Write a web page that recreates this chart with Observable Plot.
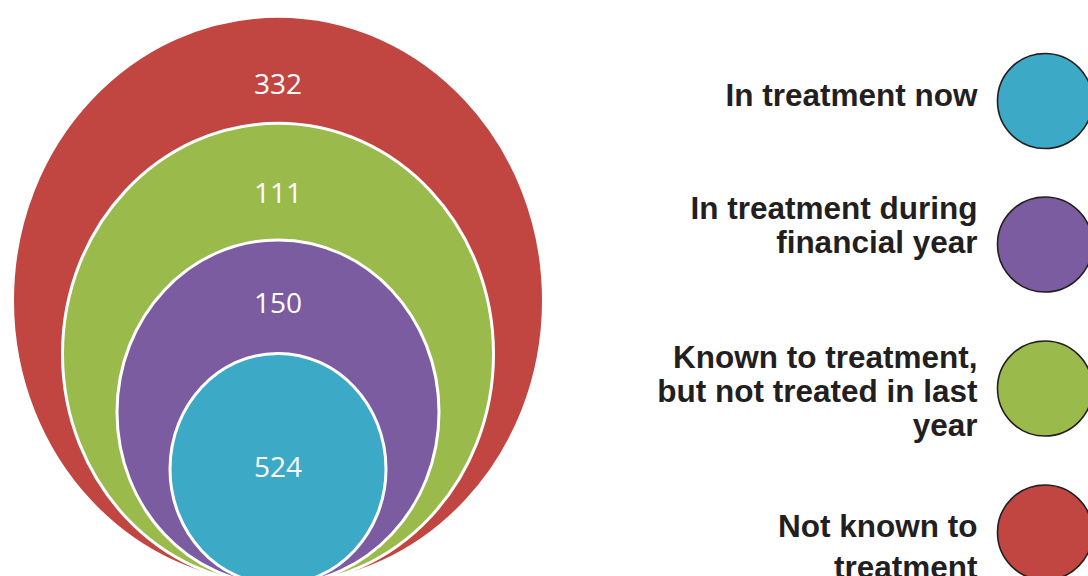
<!DOCTYPE html>
<html>
<head>
<meta charset="utf-8">
<script src="https://cdn.jsdelivr.net/npm/d3@7"></script>
<script src="https://cdn.jsdelivr.net/npm/@observablehq/plot@0.6"></script>
<style>
  html, body { margin: 0; padding: 0; background: #ffffff; }
  #chart svg { display: block; }
</style>
</head>
<body>
<div id="chart"></div>
<script>
// ---- Data ----
const categories = [
  "In treatment now",
  "In treatment during financial year",
  "Known to treatment, but not treated in last year",
  "Not known to treatment"
];
const counts = [524, 150, 111, 332];
const legendLabels = [
  ["In treatment now"],
  ["In treatment during", "financial year"],
  ["Known to treatment,", "but not treated in last", "year"],
  ["Not known to", "treatment"]
];

// ---- Styles ----
const colors = ["#3CA9C6", "#7B5CA0", "#9ABA4C", "#C14541"];

// ---- Layout (pixel sizes / positions) ----
const ellipseRx = [108, 161, 215.5, 265.5];
const ellipseAspect = 1.07;
const ellipseCx = 277.5;
const ellipseBottom = 584;
const valueBaseline = [476, 312, 202, 93];
const legendCircleX = 1044.5;
const legendCircleR = 47.5;
const legendCircleY = [100.5, 244, 388, 532];
const legendTextX = 977;
const legendFirstBaseline = [105, 218, 367, 536];
const legendLineGap = [0, 34, 34, 41];

// custom ellipse symbol (slightly taller than wide)
const ellipseSymbol = {
  draw(context, size) {
    const rx = Math.sqrt(size / Math.PI);
    const ry = rx * ellipseAspect;
    const k = 0.5522847498;
    context.moveTo(rx, 0);
    context.bezierCurveTo(rx, k * ry, k * rx, ry, 0, ry);
    context.bezierCurveTo(-k * rx, ry, -rx, k * ry, -rx, 0);
    context.bezierCurveTo(-rx, -k * ry, -k * rx, -ry, 0, -ry);
    context.bezierCurveTo(k * rx, -ry, rx, -k * ry, rx, 0);
    context.closePath();
  }
};

const rows = categories.map((c, i) => ({
  category: c,
  count: counts[i],
  color: colors[i],
  rx: ellipseRx[i],
  cx: ellipseCx,
  cy: ellipseBottom - ellipseRx[i] * ellipseAspect,
  valueY: valueBaseline[i],
  legendY: legendCircleY[i]
}));
const nested = rows.slice().sort((a, b) => b.rx - a.rx);

const legendLines = [];
legendLabels.forEach((lines, i) => {
  lines.forEach((t, j) => {
    legendLines.push({ text: t, category: categories[i], y: legendFirstBaseline[i] + j * legendLineGap[i] });
  });
});

const chart = Plot.plot({
  width: 1088,
  height: 576,
  margin: 0,
  x: { type: "identity", axis: null },
  y: { type: "identity", axis: null },
  r: { type: "identity" },
  marks: [
    Plot.dot(nested, {
      x: "cx", y: "cy", r: "rx",
      symbol: ellipseSymbol,
      fill: (d) => d.color,
      stroke: "#ffffff",
      strokeWidth: 3,
      sort: null
    }),
    Plot.text(rows, {
      x: "cx", y: "valueY",
      text: (d) => String(d.count),
      fill: "#ffffff",
      fontSize: 28,
      fontFamily: "Open Sans",
      lineAnchor: "bottom",
      textAnchor: "middle"
    }),
    Plot.dot(rows, {
      x: () => legendCircleX, y: "legendY", r: () => legendCircleR,
      fill: (d) => d.color,
      stroke: "#231f20",
      strokeWidth: 1.6
    }),
    Plot.text(legendLines, {
      x: () => legendTextX, y: "y",
      text: "text",
      fill: "#231f20",
      fontSize: 31.5,
      fontWeight: "bold",
      fontFamily: "Liberation Sans, Arial, sans-serif",
      textAnchor: "end",
      lineAnchor: "bottom"
    })
  ]
});
chart.style.fontFamily = "Liberation Sans, Arial, sans-serif";
document.getElementById("chart").appendChild(chart);
</script>
</body>
</html>
